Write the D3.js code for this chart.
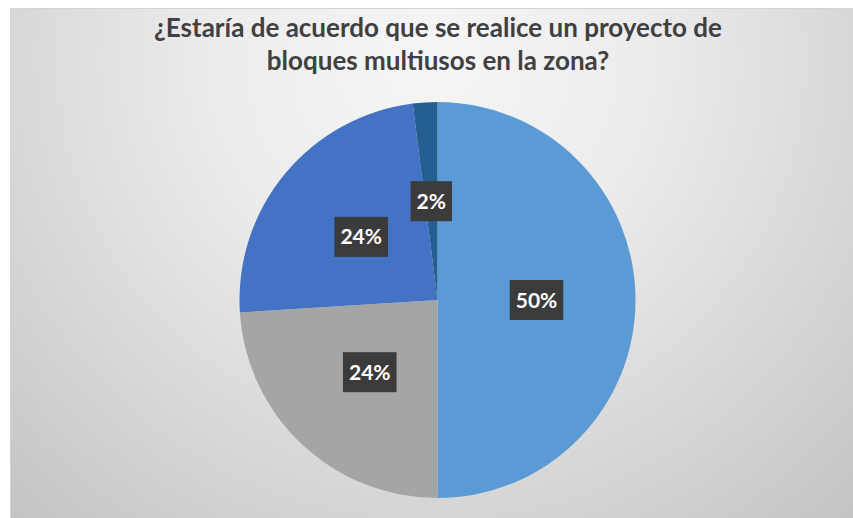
<!DOCTYPE html>
<html>
<head>
<meta charset="utf-8">
<script src="https://cdn.jsdelivr.net/npm/d3@7"></script>
<style>
  html, body { margin: 0; padding: 0; background: #ffffff; }
  svg { display: block; }
</style>
</head>
<body>
<svg id="chart" width="853" height="518"></svg>
<script>
// Survey answers, in drawing order clockwise from 12 o'clock
const categories = ["Sí", "No", "Tal vez", "No sabe"];
const counts = [25, 12, 12, 1];
const colors = ["#5B9BD5", "#A5A5A5", "#4472C4", "#255E91"];
const titleLines = [
  "¿Estaría de acuerdo que se realice un proyecto de",
  "bloques multiusos en la zona?"
];

const W = 853, H = 518;
const svg = d3.select("#chart");

// Background panel with soft radial gradient
const defs = svg.append("defs");
const grad = defs.append("radialGradient")
  .attr("id", "bg")
  .attr("gradientUnits", "userSpaceOnUse")
  .attr("cx", 431).attr("cy", 60)
  .attr("r", 620)
  .attr("fx", 431).attr("fy", 60);
grad.append("stop").attr("offset", "0%").attr("stop-color", "#f6f6f6");
grad.append("stop").attr("offset", "35%").attr("stop-color", "#ececec");
grad.append("stop").attr("offset", "100%").attr("stop-color", "#c4c4c4");

svg.append("rect")
  .attr("x", 10.5).attr("y", 8.5)
  .attr("width", W - 10).attr("height", H - 8)
  .attr("fill", "url(#bg)")
  .attr("stroke", "#d4d4d4")
  .attr("stroke-width", 1);

// Title
const title = svg.append("g");
const titleSizeTarget = 587;
const t1 = title.append("text")
  .attr("x", 438).attr("y", 37)
  .attr("text-anchor", "middle")
  .attr("font-family", "Lato, 'Open Sans', sans-serif")
  .attr("font-weight", 700)
  .attr("font-size", 22)
  .attr("fill", "#404040")
  .text(titleLines[0]);
const w1 = t1.node().getComputedTextLength();
const fs = Math.min(26, 22 * titleSizeTarget / w1);
t1.attr("font-size", fs);
title.append("text")
  .attr("x", 438).attr("y", 70)
  .attr("text-anchor", "middle")
  .attr("font-family", "Lato, 'Open Sans', sans-serif")
  .attr("font-weight", 700)
  .attr("font-size", fs)
  .attr("fill", "#404040")
  .text(titleLines[1]);

// Pie
const cx = 437.5, cy = 300, R = 198;
const total = d3.sum(counts);
const pie = d3.pie().sort(null).value(d => d.v);
const data = pie(counts.map((v, i) => ({ v, i, name: categories[i] })));
const arc = d3.arc().innerRadius(0).outerRadius(R);

const g = svg.append("g").attr("transform", `translate(${cx},${cy})`);
g.selectAll("path.slice")
  .data(data)
  .join("path")
  .attr("class", "slice")
  .attr("d", arc)
  .attr("fill", d => colors[d.data.i]);

// Percentage labels in dark boxes at half radius
const fmt = d3.format(".0%");
const labels = g.selectAll("g.lbl")
  .data(data)
  .join("g")
  .attr("class", "lbl")
  .attr("transform", d => `translate(${arc.centroid(d)})`);

labels.each(function(d) {
  const sel = d3.select(this);
  const box = sel.append("rect").attr("fill", "#3b3b3b");
  const txt = sel.append("text")
    .attr("text-anchor", "middle")
    .attr("dy", "0.36em")
    .attr("font-family", "Lato, 'Open Sans', sans-serif")
    .attr("font-weight", 700)
    .attr("font-size", 21)
    .attr("fill", "#ffffff")
    .text(fmt(d.data.v / total));
  const tw = txt.node().getComputedTextLength();
  const bw = tw + 12, bh = 40;
  box.attr("x", -bw / 2).attr("y", -bh / 2).attr("width", bw).attr("height", bh);
});
</script>
</body>
</html>
